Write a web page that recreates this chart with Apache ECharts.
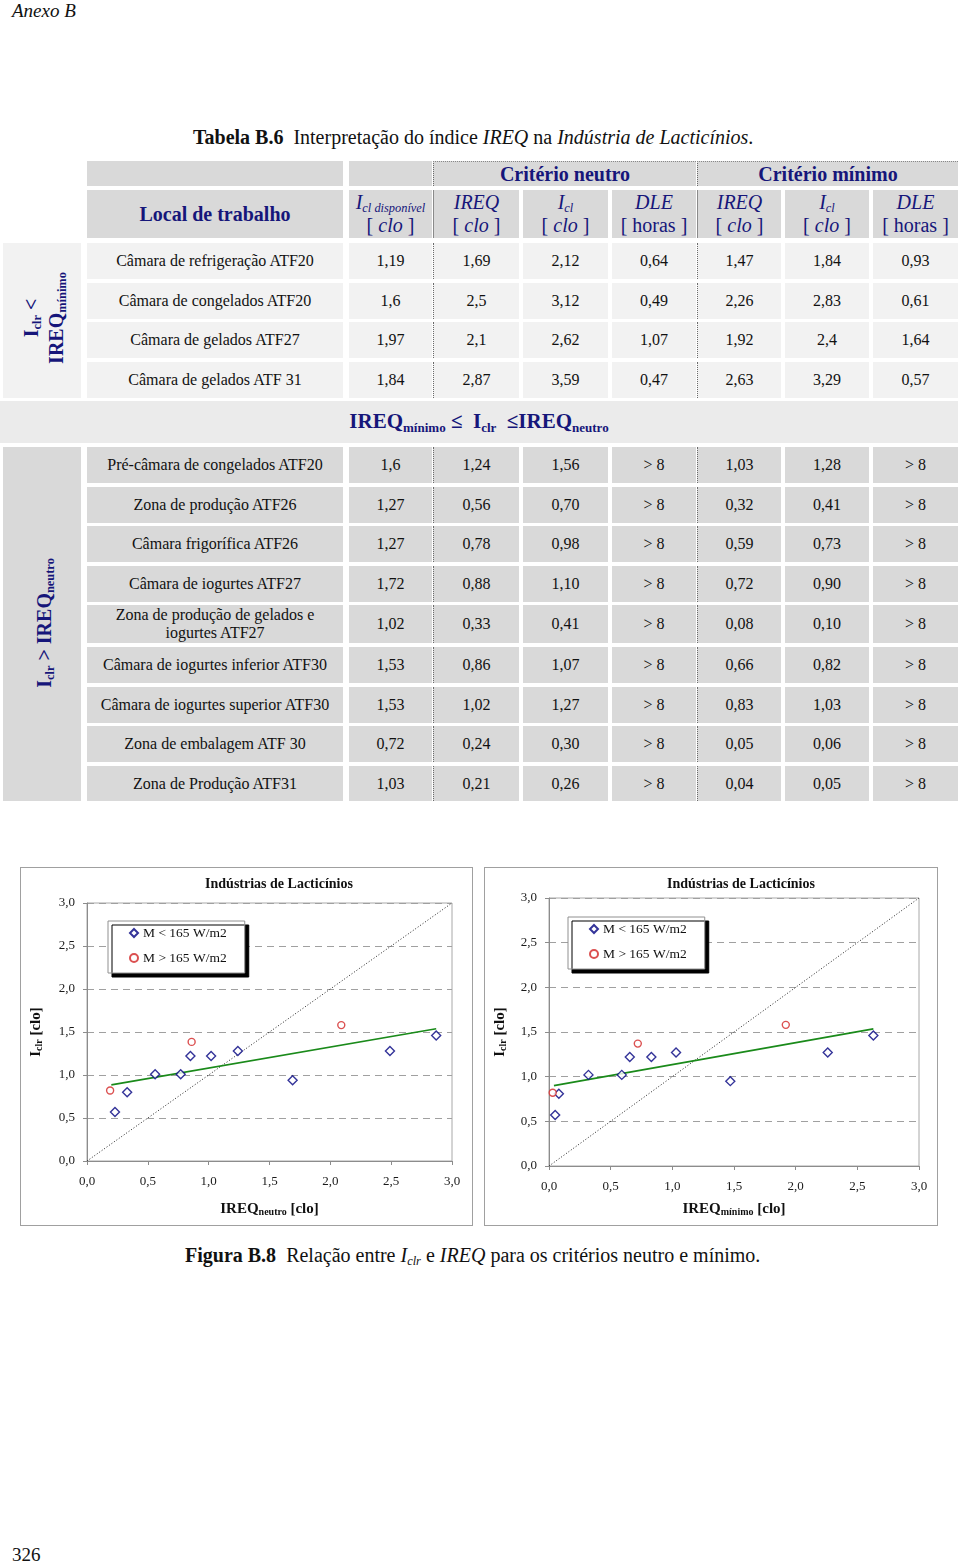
<!DOCTYPE html>
<html><head><meta charset="utf-8">
<script src="https://cdn.jsdelivr.net/npm/echarts@6/dist/echarts.min.js"></script>
<style>
body{margin:0;width:960px;height:1568px;background:#fff;font-family:'Liberation Serif','Times New Roman',serif;position:relative;overflow:hidden;color:#111}
.a{position:absolute;white-space:nowrap}
.c{position:absolute;display:flex;align-items:center;justify-content:center;text-align:center;box-sizing:border-box;line-height:1.12;font-size:16px}
.nv{color:#16167a}
sub{font-size:0.62em;vertical-align:-0.28em;line-height:0}
.rot{position:absolute;transform:translate(-50%,-50%) rotate(-90deg);white-space:nowrap;text-align:center;font-weight:bold;font-size:20px;line-height:25px}
.box{position:absolute;border:1px solid #a0a0a0;background:#fff}
</style></head><body>
<div class="a" style="left:12px;top:0px;font-size:19px;font-style:italic">Anexo B</div>
<div class="a" style="left:193px;top:126px;font-size:20px"><b>Tabela B.6</b>&nbsp; Interpretação do índice <i>IREQ</i> na <i>Indústria de Lacticínios</i>.</div>
<div id="tbl"></div>
<div class="box" style="left:20px;top:867px;width:451px;height:357px"><div id="c1" style="width:451px;height:357px"></div></div>
<div class="box" style="left:484px;top:867px;width:452px;height:357px"><div id="c2" style="width:452px;height:357px"></div></div>
<div class="a" style="left:185px;top:1244px;font-size:20px"><b>Figura B.8</b>&nbsp; Relação entre <i>I<sub>clr</sub></i> e <i>IREQ</i> para os critérios neutro e mínimo.</div>
<div class="a" style="left:12px;top:1544px;font-size:19px">326</div>
<script>
// ---------- table data ----------
const places = ['Câmara de refrigeração ATF20','Câmara de congelados ATF20','Câmara de gelados ATF27','Câmara de gelados ATF 31',
  'Pré-câmara de congelados ATF20','Zona de produção ATF26','Câmara frigorífica ATF26','Câmara de iogurtes ATF27',
  'Zona de produção de gelados e\niogurtes ATF27','Câmara de iogurtes inferior ATF30','Câmara de iogurtes superior ATF30',
  'Zona de embalagem ATF 30','Zona de Produção ATF31'];
const iclDisp   = ['1,19','1,6','1,97','1,84','1,6','1,27','1,27','1,72','1,02','1,53','1,53','0,72','1,03'];
const ireqNeu   = ['1,69','2,5','2,1','2,87','1,24','0,56','0,78','0,88','0,33','0,86','1,02','0,24','0,21'];
const iclNeu    = ['2,12','3,12','2,62','3,59','1,56','0,70','0,98','1,10','0,41','1,07','1,27','0,30','0,26'];
const dleNeu    = ['0,64','0,49','1,07','0,47','> 8','> 8','> 8','> 8','> 8','> 8','> 8','> 8','> 8'];
const ireqMin   = ['1,47','2,26','1,92','2,63','1,03','0,32','0,59','0,72','0,08','0,66','0,83','0,05','0,04'];
const iclMin    = ['1,84','2,83','2,4','3,29','1,28','0,41','0,73','0,90','0,10','0,82','1,03','0,06','0,05'];
const dleMin    = ['0,93','0,61','1,64','0,57','> 8','> 8','> 8','> 8','> 8','> 8','> 8','> 8','> 8'];
const groupTopCount = 4;

// ---------- chart data ----------
const chartTitle = 'Indústrias de Lacticínios';
const legendNames = ['M < 165 W/m2','M > 165 W/m2'];
const neuBlueX = [0.23,0.33,0.56,0.77,0.85,1.02,1.24,1.69,2.49,2.87];
const neuBlueY = [0.57,0.80,1.01,1.01,1.22,1.22,1.28,0.94,1.28,1.46];
const neuRedX  = [0.19,0.86,2.09];
const neuRedY  = [0.82,1.385,1.58];
const neuTrendX = [0.20,2.87];
const neuTrendY = [0.885,1.537];
const minBlueX = [0.05,0.08,0.32,0.59,0.655,0.83,1.03,1.47,2.26,2.63];
const minBlueY = [0.57,0.81,1.02,1.02,1.22,1.22,1.27,0.95,1.27,1.46];
const minRedX  = [0.03,0.72,1.92];
const minRedY  = [0.82,1.37,1.58];
const minTrendX = [0.04,2.63];
const minTrendY = [0.90,1.535];
const diagX = [0,3];
const diagY = [0,3];

// ---------- table layout ----------
const tbl = document.getElementById('tbl');
function cell(l,t,w,h,bg,html,extra){
  const d=document.createElement('div');d.className='c';
  d.style.cssText=`left:${l}px;top:${t}px;width:${w}px;height:${h}px;background:${bg};`+(extra||'');
  d.innerHTML=html;tbl.appendChild(d);return d;
}
const colL=[87,349,433,523,612,697,785,873];
const colW=[256,83,86,85,84,84,84,85];
const HG='#d9d9d9', LG='#f2f2f2', BG='#ebebeb';
const dot='border-left:1px dotted #6a6a6a;';
// header row 1
cell(87,161,256,25,HG,'');
cell(349,161,83,25,HG,'');
cell(433,161,263,25,HG,'<b class="nv" style="font-size:20px">Critério neutro</b>','border-top:1px dotted #888;'+dot);
cell(697,161,261,25,HG,'<b class="nv" style="font-size:20px">Critério mínimo</b>','border-top:1px dotted #888;'+dot);
// header row 2
const heads=['<b style="font-size:20px">Local de trabalho</b>',
 '<i>I<sub>cl disponível</sub></i><br>[ <i>clo</i> ]',
 '<i>IREQ</i><br>[ <i>clo</i> ]','<i>I<sub>cl</sub></i><br>[ <i>clo</i> ]','<i>DLE</i><br>[ horas ]',
 '<i>IREQ</i><br>[ <i>clo</i> ]','<i>I<sub>cl</sub></i><br>[ <i>clo</i> ]','<i>DLE</i><br>[ horas ]'];
heads.forEach((h,i)=>{
  const d=cell(colL[i],190,colW[i],48,HG,'<span class="nv">'+h+'</span>',(i==2||i==5)?'border-left:1px solid #8a8a8a;':'');
  d.style.fontSize='20px';d.style.lineHeight='23px';
});
const rowT=[243,283,322,362,447,487,526,566,605,647,687,726,766];
const rowH=[36,36,36,36,36,36,36,36,38,36,36,36,35];
places.forEach((p,r)=>{
  const bg = r<groupTopCount?LG:HG;
  const vals=[p.replace('\n','<br>'),iclDisp[r],ireqNeu[r],iclNeu[r],dleNeu[r],ireqMin[r],iclMin[r],dleMin[r]];
  vals.forEach((v,i)=>cell(colL[i],rowT[r],colW[i],rowH[r],bg,v,(i==2||i==5)?dot:''));
});
// side cells
cell(3,243,78,155,LG,'');
cell(3,447,78,354,HG,'');
cell(0,401,958,42,BG,'<b class="nv" style="font-size:21px">IREQ<sub>mínimo</sub> ≤&nbsp; I<sub>clr</sub>&nbsp; ≤IREQ<sub>neutro</sub></b>');
const s1=document.createElement('div');s1.className='rot nv';s1.style.left='44px';s1.style.top='318px';
s1.innerHTML='I<sub>clr</sub> &lt;<br>IREQ<sub>mínimo</sub>';tbl.appendChild(s1);
const s2=document.createElement('div');s2.className='rot nv';s2.style.left='44px';s2.style.top='623px';
s2.innerHTML='I<sub>clr</sub> &gt; IREQ<sub>neutro</sub>';tbl.appendChild(s2);

// ---------- charts ----------
const FF='Liberation Serif';
const zip=(a,b)=>a.map((v,i)=>[v,b[i]]);
const diamond='path://M0,-10L10,0L0,10L-10,0Z';
function build(id,c){
  const ch=echarts.init(document.getElementById(id),null,{renderer:'canvas'});
  const fmt=v=>v.toFixed(1).replace('.',',');
  const axBase={type:'value',min:0,max:3,interval:0.5,
    axisLine:{show:true,lineStyle:{color:'#8c8c8c',width:1}},
    axisTick:{show:true,length:4,lineStyle:{color:'#8c8c8c'}},
    axisLabel:{formatter:fmt,fontFamily:FF,fontSize:13,color:'#1a1a1a'},
    nameLocation:'middle',
    nameTextStyle:{rich:{b:{fontFamily:FF,fontWeight:'bold',fontSize:15,color:'#111'},s:{fontFamily:FF,fontWeight:'bold',fontSize:10,color:'#111',padding:[5,0,0,0]}}}};
  ch.setOption({
    animation:false,
    backgroundColor:'#fff',
    title:{text:chartTitle,left:c.titleX,top:4,textAlign:'center',textStyle:{fontFamily:FF,fontWeight:'bold',fontSize:14,color:'#111'}},
    grid:{left:c.grid[0],top:c.grid[1],width:c.grid[2],height:c.grid[3],show:true,borderColor:'#a8a8a8',borderWidth:1,backgroundColor:'#fff'},
    legend:{orient:'vertical',left:c.leg[0],top:c.leg[1],data:legendNames,itemWidth:8,itemHeight:8,itemGap:11,
      padding:[5,18,8,21],backgroundColor:'#fff',borderColor:'#909090',borderWidth:1,
      shadowColor:'#000',shadowBlur:0,shadowOffsetX:4,shadowOffsetY:4,
      textStyle:{fontFamily:FF,fontSize:13.5,color:'#111'}},
    xAxis:Object.assign({},axBase,{name:c.xname,nameGap:c.xgap,splitLine:{show:false},axisLabel:Object.assign({},axBase.axisLabel,{margin:14})}),
    yAxis:Object.assign({},axBase,{name:'{b|I}{s|clr}{b| [clo]}',nameRotate:90,nameGap:c.ygap,
      axisLabel:Object.assign({},axBase.axisLabel,{margin:12}),
      splitLine:{show:true,lineStyle:{color:'#a0a0a0',type:[7,5],width:1}}}),
    series:[
      {type:'line',data:zip(diagX,diagY),symbol:'none',silent:true,lineStyle:{color:'#222',width:1,type:[1,2]},z:1},
      {type:'line',data:zip(c.tx,c.ty),symbol:'none',silent:true,lineStyle:{color:'#1a8a1a',width:1.6},z:2},
      {type:'scatter',name:legendNames[0],data:zip(c.bx,c.by),symbol:diamond,symbolSize:9,
        itemStyle:{color:'#fff',borderColor:'#000080',borderWidth:1.4},z:3},
      {type:'scatter',name:legendNames[1],data:zip(c.rx,c.ry),symbol:'circle',symbolSize:7,
        itemStyle:{color:'#fff',borderColor:'#d22424',borderWidth:1.4},z:3}
    ]
  });
}
build('c1',{titleX:253,grid:[65,35,366,258],leg:[87,53],xname:'{b|IREQ}{s|neutro}{b| [clo]}',xgap:41,ygap:43,
  bx:neuBlueX,by:neuBlueY,rx:neuRedX,ry:neuRedY,tx:neuTrendX,ty:neuTrendY});
build('c2',{titleX:251,grid:[60,30,374,268],leg:[83,49],xname:'{b|IREQ}{s|mínimo}{b| [clo]}',xgap:36,ygap:41,
  bx:minBlueX,by:minBlueY,rx:minRedX,ry:minRedY,tx:minTrendX,ty:minTrendY});
</script>
</body></html>
